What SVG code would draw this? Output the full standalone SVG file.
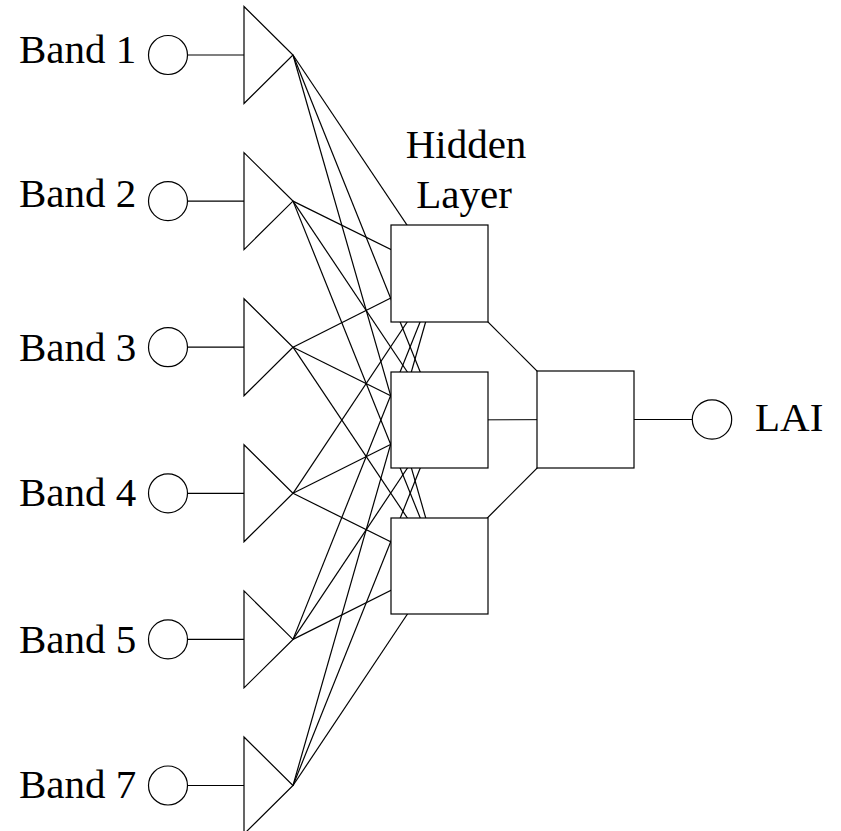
<svg xmlns="http://www.w3.org/2000/svg" width="841" height="831" viewBox="0 0 841 831">
  <style>
    .edge { stroke: #000; stroke-width: 1.2; fill: none; }
    .shape { stroke: #000; stroke-width: 1.2; fill: #fff; }
    .label { font-family: "Liberation Serif", "Times New Roman", serif; font-size: 41px; fill: #000; }
  </style>
  <rect width="841" height="831" fill="#fff"/>

  <!-- connectors: drawn first so the filled nodes sit on top -->
  <g id="connectors" class="edge">
    <!-- input circles to input triangles -->
    <line x1="187.5" y1="55" x2="244" y2="55"/>
    <line x1="187.5" y1="201.1" x2="244" y2="201.1"/>
    <line x1="187.5" y1="347.2" x2="244" y2="347.2"/>
    <line x1="187.5" y1="493.3" x2="244" y2="493.3"/>
    <line x1="187.5" y1="639.4" x2="244" y2="639.4"/>
    <line x1="187.5" y1="785.5" x2="244" y2="785.5"/>
    <!-- input tips to hidden unit centres -->
    <line x1="293" y1="55" x2="439.5" y2="273.5"/>
    <line x1="293" y1="55" x2="439.5" y2="420"/>
    <line x1="293" y1="55" x2="439.5" y2="566"/>
    <line x1="293" y1="201.1" x2="439.5" y2="273.5"/>
    <line x1="293" y1="201.1" x2="439.5" y2="420"/>
    <line x1="293" y1="201.1" x2="439.5" y2="566"/>
    <line x1="293" y1="347.2" x2="439.5" y2="273.5"/>
    <line x1="293" y1="347.2" x2="439.5" y2="420"/>
    <line x1="293" y1="347.2" x2="439.5" y2="566"/>
    <line x1="293" y1="493.3" x2="439.5" y2="273.5"/>
    <line x1="293" y1="493.3" x2="439.5" y2="420"/>
    <line x1="293" y1="493.3" x2="439.5" y2="566"/>
    <line x1="293" y1="639.4" x2="439.5" y2="273.5"/>
    <line x1="293" y1="639.4" x2="439.5" y2="420"/>
    <line x1="293" y1="639.4" x2="439.5" y2="566"/>
    <line x1="293" y1="785.5" x2="439.5" y2="273.5"/>
    <line x1="293" y1="785.5" x2="439.5" y2="420"/>
    <line x1="293" y1="785.5" x2="439.5" y2="566"/>
    <!-- hidden units to output unit -->
    <line x1="439.5" y1="273.5" x2="585.5" y2="419.5"/>
    <line x1="439.5" y1="420" x2="585.5" y2="419.5"/>
    <line x1="439.5" y1="566" x2="585.5" y2="419.5"/>
    <!-- output unit to LAI -->
    <line x1="634" y1="419.5" x2="692.3" y2="419.5"/>
  </g>

  <!-- input bands -->
  <g id="band1">
    <text class="label" x="19" y="63">Band 1</text>
    <circle class="shape" cx="168" cy="55" r="19.5"/>
    <polygon class="shape" points="244,6.5 244,103.5 293,55"/>
  </g>
  <g id="band2">
    <text class="label" x="19" y="207">Band 2</text>
    <circle class="shape" cx="168" cy="201.1" r="19.5"/>
    <polygon class="shape" points="244,152.6 244,249.6 293,201.1"/>
  </g>
  <g id="band3">
    <text class="label" x="19" y="361">Band 3</text>
    <circle class="shape" cx="168" cy="347.2" r="19.5"/>
    <polygon class="shape" points="244,298.7 244,395.7 293,347.2"/>
  </g>
  <g id="band4">
    <text class="label" x="19" y="506">Band 4</text>
    <circle class="shape" cx="168" cy="493.3" r="19.5"/>
    <polygon class="shape" points="244,444.8 244,541.8 293,493.3"/>
  </g>
  <g id="band5">
    <text class="label" x="19" y="653">Band 5</text>
    <circle class="shape" cx="168" cy="639.4" r="19.5"/>
    <polygon class="shape" points="244,590.9 244,687.9 293,639.4"/>
  </g>
  <g id="band7">
    <text class="label" x="19" y="798">Band 7</text>
    <circle class="shape" cx="168" cy="785.5" r="19.5"/>
    <polygon class="shape" points="244,737 244,834 293,785.5"/>
  </g>

  <!-- hidden layer -->
  <g id="hidden-label">
    <text class="label" x="466" y="158" text-anchor="middle">Hidden</text>
    <text class="label" x="464" y="208" text-anchor="middle">Layer</text>
  </g>
  <g id="hidden1">
    <rect class="shape" x="391" y="225" width="97" height="97"/>
  </g>
  <g id="hidden2">
    <rect class="shape" x="391" y="372" width="97" height="96"/>
  </g>
  <g id="hidden3">
    <rect class="shape" x="391" y="518" width="97" height="96"/>
  </g>

  <!-- output unit -->
  <g id="output">
    <rect class="shape" x="537" y="371" width="97" height="97"/>
  </g>
  <g id="lai">
    <circle class="shape" cx="712" cy="419.5" r="19.7"/>
    <text class="label" x="755" y="430.5">LAI</text>
  </g>
</svg>
